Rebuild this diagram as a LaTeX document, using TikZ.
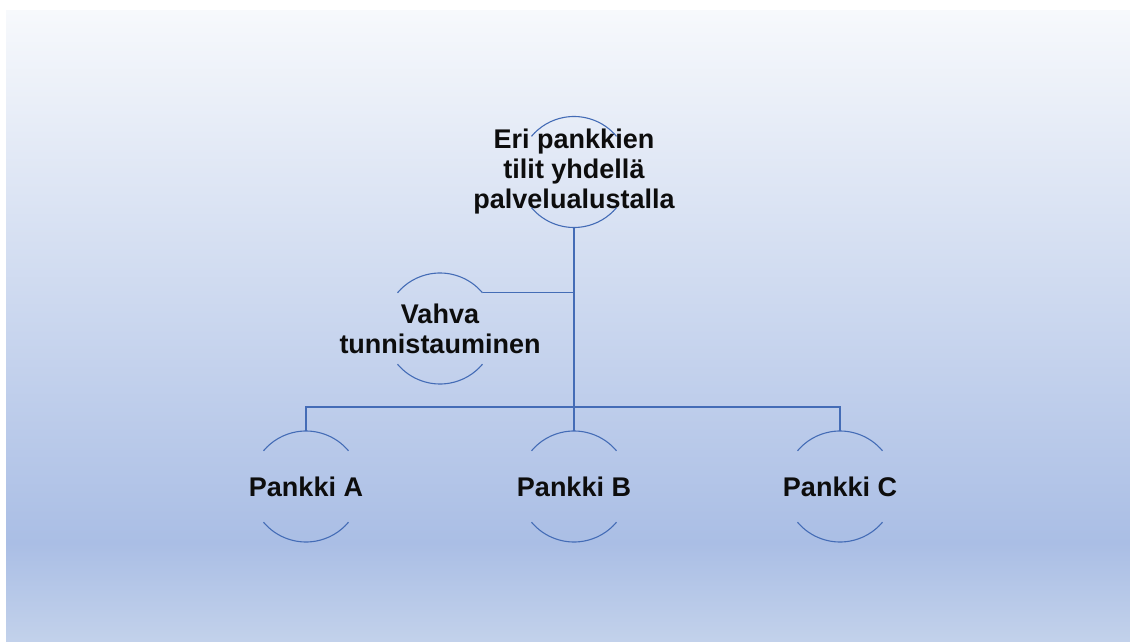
\documentclass[tikz,border=0pt]{standalone}
\usepackage{fontspec}
\setmainfont{Liberation Sans}
\definecolor{bgtop}{RGB}{247,249,252}
\definecolor{bgmid}{RGB}{170,190,229}
\definecolor{bgbot}{RGB}{195,210,235}
\definecolor{linkblue}{RGB}{68,108,182}
\pgfdeclareverticalshading{bgshade}{100bp}{color(0bp)=(bgbot); color(25bp)=(bgbot); color(33bp)=(bgmid); color(75bp)=(bgtop); color(100bp)=(bgtop)}
\begin{document}
\begin{tikzpicture}[x=1pt, y=1pt,
		ring/.style={circle, minimum size=111pt, inner sep=0pt, outer sep=0pt},
		label/.style={align=center, font=\bfseries\fontsize{27}{30}\selectfont, text=black!95},
		link/.style={draw=linkblue, line width=1.1pt}]

	\useasboundingbox (0,0) rectangle (1130,641);
	\shade[shading=bgshade] (6,-3) rectangle (1136,631);
	\fill[white] (-3,631) rectangle (1136,644);
	\fill[white] (-3,-3) rectangle (6,644);

	\node[ring] (top) at (574, 469) {};
	\node[ring] (auth) at (440, 312.5) {};
	\node[ring] (a) at (306, 154.5) {};
	\node[ring] (b) at (574, 154.5) {};
	\node[ring] (c) at (840, 154.5) {};

	\node[label] (toptext) at (top) {Eri pankkien\\tilit yhdellä\\palvelualustalla};
	\node[label] (authtext) at (auth) {Vahva\\tunnistauminen};
	\node[label] (atext) at (a) {Pankki A};
	\node[label] (btext) at (b) {Pankki B};
	\node[label] (ctext) at (c) {Pankki C};

	\foreach \n in {top, auth, a, b, c} {
		\draw[link] (\n.40) arc[start angle=40, end angle=140, radius=55.5pt];
		\draw[link] (\n.220) arc[start angle=220, end angle=320, radius=55.5pt];
	}

	\draw[link] (top.south) -- ++(0,-179.5) coordinate (hub);
	\draw[link] (hub) -| (a.north);
	\draw[link] (hub) -- (b.north);
	\draw[link] (hub) -| (c.north);
	\draw[link] (auth.40) -- (auth.40 -| top.south);
\end{tikzpicture}
\end{document}
